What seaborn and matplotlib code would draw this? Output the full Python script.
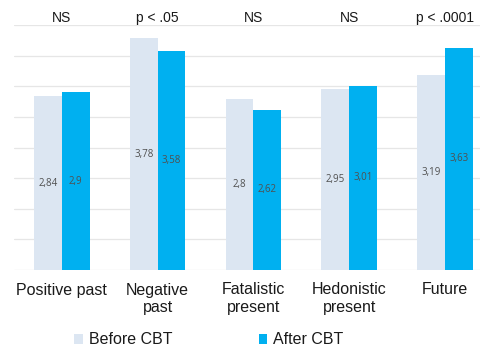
import numpy as np
import pandas as pd
import matplotlib
matplotlib.use("Agg")
import matplotlib.pyplot as plt
import seaborn as sns
from matplotlib.patches import Patch

# ==========================================================
# DATA
# ==========================================================

categories = [
    "Positive past",
    "Negative\npast",
    "Fatalistic\npresent",
    "Hedonistic\npresent",
    "Future",
]

before_cbt = [2.84, 3.78, 2.8, 2.95, 3.19]
after_cbt = [2.9, 3.58, 2.62, 3.01, 3.63]

significance = ["NS", "p < .05", "NS", "NS", "p < .0001"]

groups = ["Before CBT", "After CBT"]
colors = ["#DCE6F2", "#00B0F0"]

df = pd.DataFrame({
    "Scale": categories * 2,
    "Score": before_cbt + after_cbt,
    "Group": [groups[0]] * len(categories) + [groups[1]] * len(categories),
})

# ==========================================================
# PLOT
# ==========================================================

sns.set_style("white")
plt.rcParams["font.family"] = ["Liberation Sans", "DejaVu Sans"]

fig = plt.figure(figsize=(4.8, 3.5), dpi=100)
ax = fig.add_axes([14 / 480, 80 / 350, 466 / 480, 245 / 350])

sns.barplot(
    data=df,
    x="Scale",
    y="Score",
    hue="Group",
    palette=colors,
    width=0.58,
    saturation=1,
    linewidth=0,
    legend=False,
    ax=ax,
)

ax.set_xlim(-0.5, -0.5 + 466 / 95.75)
ax.set_ylim(0, 4)
ax.set_yticks(np.arange(0, 4.01, 0.5))
ax.set_yticklabels([])
ax.tick_params(axis="y", length=0)
ax.tick_params(axis="x", length=0, pad=9, labelsize=11.5, colors="#1a1a1a")
ax.grid(axis="y", color="#E6E6E6", linewidth=0.9)
ax.set_axisbelow(True)
ax.set_xlabel("")
ax.set_ylabel("")

for side in ["top", "right", "left", "bottom"]:
    ax.spines[side].set_visible(False)

# value labels in the middle of each bar
for container in ax.containers:
    labels = [f"{v:g}".replace(".", ",") for v in container.datavalues]
    ax.bar_label(
        container,
        labels=labels,
        label_type="center",
        fontsize=7,
        color="#505050",
        family=["Open Sans", "DejaVu Sans"],
    )

# significance above each group
for i, text in enumerate(significance):
    ax.text(
        i, 4.11, text,
        ha="center", va="center",
        fontsize=10, color="#1a1a1a",
        clip_on=False,
    )

handles = [Patch(facecolor=c, edgecolor="none") for c in colors]

fig.legend(
    handles,
    groups,
    loc="center",
    bbox_to_anchor=(0.435, 10 / 350),
    ncol=2,
    frameon=False,
    fontsize=11.5,
    handlelength=0.55,
    handleheight=0.55,
    handletextpad=0.35,
    columnspacing=5.4,
    labelcolor="#1a1a1a",
)

plt.savefig("out.png", dpi=100)
plt.close()
